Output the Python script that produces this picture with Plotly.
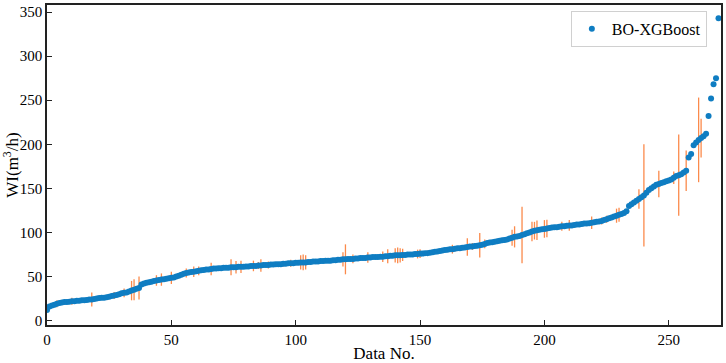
import plotly.graph_objects as go

# ── data ───────────────────────────────────────────────────────────────────
WI = [
    12, 16, 17, 18, 19, 20, 20.5, 21, 21, 21.5,
    22, 22, 22.5, 22.5, 23, 23, 23.5, 24, 24, 24.5,
    25, 25.5, 26, 26, 26.5, 27, 28, 28.5, 29, 30,
    31, 31.5, 32, 33, 34, 35, 36, 37, 41, 42,
    43, 43.5, 44, 45, 45.5, 46, 46.5, 47, 47.5, 48,
    48.5, 49, 50, 51, 52, 53, 54, 54.5, 55, 55.5,
    56, 56.5, 57, 57.5, 58, 58, 58.5, 59, 59, 59.5,
    59.5, 60, 60, 60, 60.5, 60.5, 60.5, 61, 61, 61,
    61.5, 61.5, 62, 62, 62, 62.5, 62.5, 63, 63, 63,
    63.5, 63.5, 64, 64, 64, 64.5, 64.5, 65, 65, 65,
    65.5, 65.5, 66, 66, 66, 66.5, 66.5, 67, 67, 67,
    67.5, 67.5, 68, 68, 68, 68.5, 68.5, 69, 69, 69.5,
    69.5, 70, 70, 70, 70.5, 70.5, 71, 71, 71, 71.5,
    71.5, 72, 72, 72, 72.5, 72.5, 73, 73, 73.5, 73.5,
    74, 74, 74, 74.5, 74.5, 75, 75, 75, 75.5, 75.5,
    76, 76, 76.5, 76.5, 77, 77.5, 78, 78.5, 79, 79.5,
    80, 80.5, 81, 81, 81.5, 82, 82, 82.5, 83, 83.5,
    84, 84, 84.5, 85, 85.5, 86, 87, 88, 88.5, 89,
    89.5, 90, 90.5, 91, 91.5, 92, 93, 94, 95, 95.5,
    96, 97, 98, 99, 100, 101, 102, 102.5, 103, 103.5,
    104, 104.5, 105, 105.5, 106, 106, 106.5, 107, 107, 107.5,
    108, 108, 108.5, 109, 109, 109.5, 110, 110, 110.5, 111,
    111.5, 112, 112.5, 113, 114, 115, 116, 117, 118, 119,
    120, 121, 122, 124, 130, 132, 134, 136, 138, 140,
    142, 145, 148, 150, 152, 154, 155, 156, 157, 158,
    159, 160, 162, 164, 165, 166, 168, 170, 185, 189,
    199, 202, 205, 207, 209, 212, 232, 252, 268, 275,
    343,
]

# error bars: sample index and half-length
ERR_IDX = [4, 10, 18, 27, 31, 34, 35, 37, 44, 46, 50, 56, 59, 61, 66, 74,
           76, 78, 83, 85, 86, 89, 95, 98, 102, 103, 104, 119, 120, 123, 129,
           135, 137, 140, 141, 142, 143, 149, 150, 153, 163, 164, 169, 171,
           174, 176, 187, 188, 191, 195, 196, 197, 200, 201, 207, 210, 219,
           223, 225, 229, 230, 238, 240, 246, 252, 254, 257, 262, 263]
ERR_VAL = [4, 4, 8, 4, 5, 11, 12, 13, 6, 7, 7, 5, 6, 5, 7, 9,
           7, 7, 6, 4, 7, 4, 3, 4, 8, 9, 8, 8, 17, 5, 6,
           6, 8, 8, 9, 8, 7, 5, 5, 3, 5, 3, 10, 4,
           14, 5, 9, 12, 32, 11, 10, 11, 10, 10, 5, 6, 7,
           4, 4, 8, 8, 11, 58, 15, 7, 46, 23, 48, 22]

BLUE = "#0f7dc2"
ORANGE = "#fb8a4b"
FONT = "Liberation Serif"

data_no = list(range(len(WI)))
err = [0.0] * len(WI)
for i, e in zip(ERR_IDX, ERR_VAL):
    err[i] = e

fig = go.Figure(go.Scatter(
    x=data_no, y=WI,
    mode="markers",
    name="BO-XGBoost",
    marker=dict(color=BLUE, size=6),
    error_y=dict(type="data", array=err, visible=True,
                 color=ORANGE, thickness=1.3, width=0),
))

axis_style = dict(
    showline=True, mirror=True, linecolor="#222", linewidth=1.5,
    ticks="inside", ticklen=5, tickwidth=1, tickcolor="#222",
    showgrid=False, zeroline=False,
    tickfont=dict(family=FONT, size=15, color="black"),
)

fig.update_layout(
    width=726, height=363,
    margin=dict(l=47, r=3, t=3, b=32),
    paper_bgcolor="white", plot_bgcolor="white",
    font=dict(family=FONT, color="black"),
    xaxis=dict(axis_style, range=[0, 271], tickvals=[0, 50, 100, 150, 200, 250],
               title=dict(text="Data No.", font=dict(family=FONT, size=17), standoff=0)),
    yaxis=dict(axis_style, range=[-5, 358], tickvals=[0, 50, 100, 150, 200, 250, 300, 350],
               title=dict(text="WI(m<sup>3</sup>/h)", font=dict(family=FONT, size=17), standoff=4)),
    legend=dict(x=0.979, y=0.982, xanchor="right", yanchor="top",
                bgcolor="rgba(255,255,255,0.8)", bordercolor="#d0d0d0", borderwidth=1,
                font=dict(family=FONT, size=16)),
    showlegend=True,
)

# page body has a default margin; drop it so the figure fills the window
fig.write_html(
    "out.html",
    config={"displayModeBar": False},
    post_script="document.body.style.margin='0';document.body.style.overflow='hidden';",
)
